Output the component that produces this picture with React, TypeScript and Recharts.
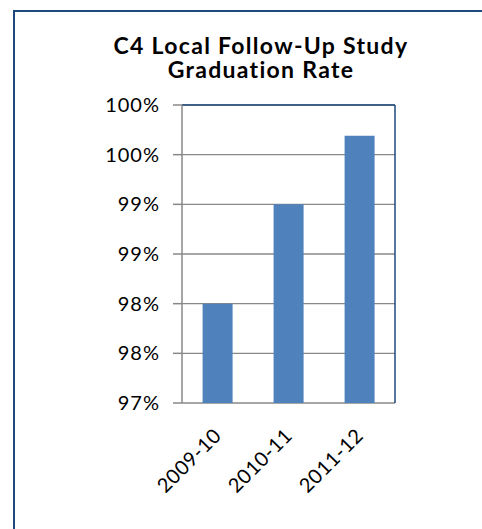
import React from "react";
import {
  BarChart,
  Bar,
  XAxis,
  YAxis,
  CartesianGrid,
  ReferenceLine,
} from "recharts";

// Graduation rate by school year (percent)
const years = ["2009-10", "2010-11", "2011-12"];
const rates = [98.0, 99.0, 99.69];
const yTicks = [97, 97.5, 98, 98.5, 99, 99.5, 100];
const boundaryTicks = [0, 1, 2, 3];
const titleLines = ["C4 Local Follow-Up Study", "Graduation Rate"];

const data = years.map((year, i) => ({ year, rate: rates[i], pos: i + 0.5 }));

const NAVY = "#1F497D";
const GRID = "#888888";
const FONT = "Lato, 'Noto Sans', sans-serif";

const YearTick = (props: any) => {
  const { x, y, payload } = props;
  const ax = x + 5;
  return (
    <text
      x={ax}
      y={y}
      transform={`rotate(-45, ${ax}, ${y})`}
      textAnchor="end"
      fontSize={20}
      fontFamily={FONT}
      letterSpacing={0.5}
      fill="#000"
    >
      {payload.value}
    </text>
  );
};

export default function App() {
  return (
    <div
      style={{
        position: "absolute",
        left: 0,
        top: 0,
        width: 482,
        height: 529,
        overflow: "hidden",
        background: "#fff",
      }}
    >
      {/* chart frame: only its top and left edges fall inside the view */}
      <div
        style={{
          position: "absolute",
          left: 13,
          top: 10,
          right: 0,
          bottom: 0,
          borderTop: `2px solid ${NAVY}`,
          borderLeft: `2px solid ${NAVY}`,
        }}
      />
      {titleLines.map((line, i) => (
        <div
          key={line}
          style={{
            position: "absolute",
            left: 13,
            width: 496,
            top: 34 + i * 24,
            height: 22,
            textAlign: "center",
            fontFamily: FONT,
            fontWeight: 700,
            fontSize: 23,
            letterSpacing: 1.3,
            fontVariantLigatures: "none",
            lineHeight: "22px",
            color: "#000",
            whiteSpace: "nowrap",
          }}
        >
          {line}
        </div>
      ))}
      <div style={{ position: "absolute", left: 0, top: 0 }}>
        <BarChart
          width={482}
          height={529}
          data={data}
          margin={{ top: 105, right: 87, bottom: 66, left: 122 }}
          barCategoryGap="29%"
        >
          <CartesianGrid vertical={false} stroke={GRID} strokeWidth={1.3} />
          <XAxis
            xAxisId="bounds"
            type="number"
            dataKey="pos"
            domain={[0, 3]}
            ticks={boundaryTicks}
            tick={false}
            tickSize={9}
            height={0}
            axisLine={{ stroke: GRID, strokeWidth: 1.5 }}
            tickLine={{ stroke: GRID, strokeWidth: 1.5 }}
          />
          <XAxis
            xAxisId="cat"
            dataKey="year"
            height={60}
            axisLine={false}
            tickLine={false}
            tickSize={9}
            tickMargin={25}
            tick={<YearTick />}
            interval={0}
          />
          <YAxis
            domain={[97, 100]}
            ticks={yTicks}
            width={60}
            allowDataOverflow
            tickSize={9}
            tickMargin={13}
            tickFormatter={(v: number) => `${Math.round(v)}%`}
            tick={{ fontSize: 20, fontFamily: FONT, fill: "#000", letterSpacing: 1 }}
            axisLine={{ stroke: GRID, strokeWidth: 1.5 }}
            tickLine={{ stroke: GRID, strokeWidth: 1.5 }}
          />
          <ReferenceLine y={100} stroke={NAVY} strokeWidth={1.5} />
          <ReferenceLine
            xAxisId="bounds"
            x={3}
            stroke={NAVY}
            strokeWidth={1.5}
          />
          <Bar
            xAxisId="cat"
            dataKey="rate"
            fill="#4F81BD"
            isAnimationActive={false}
          />
        </BarChart>
      </div>
    </div>
  );
}
